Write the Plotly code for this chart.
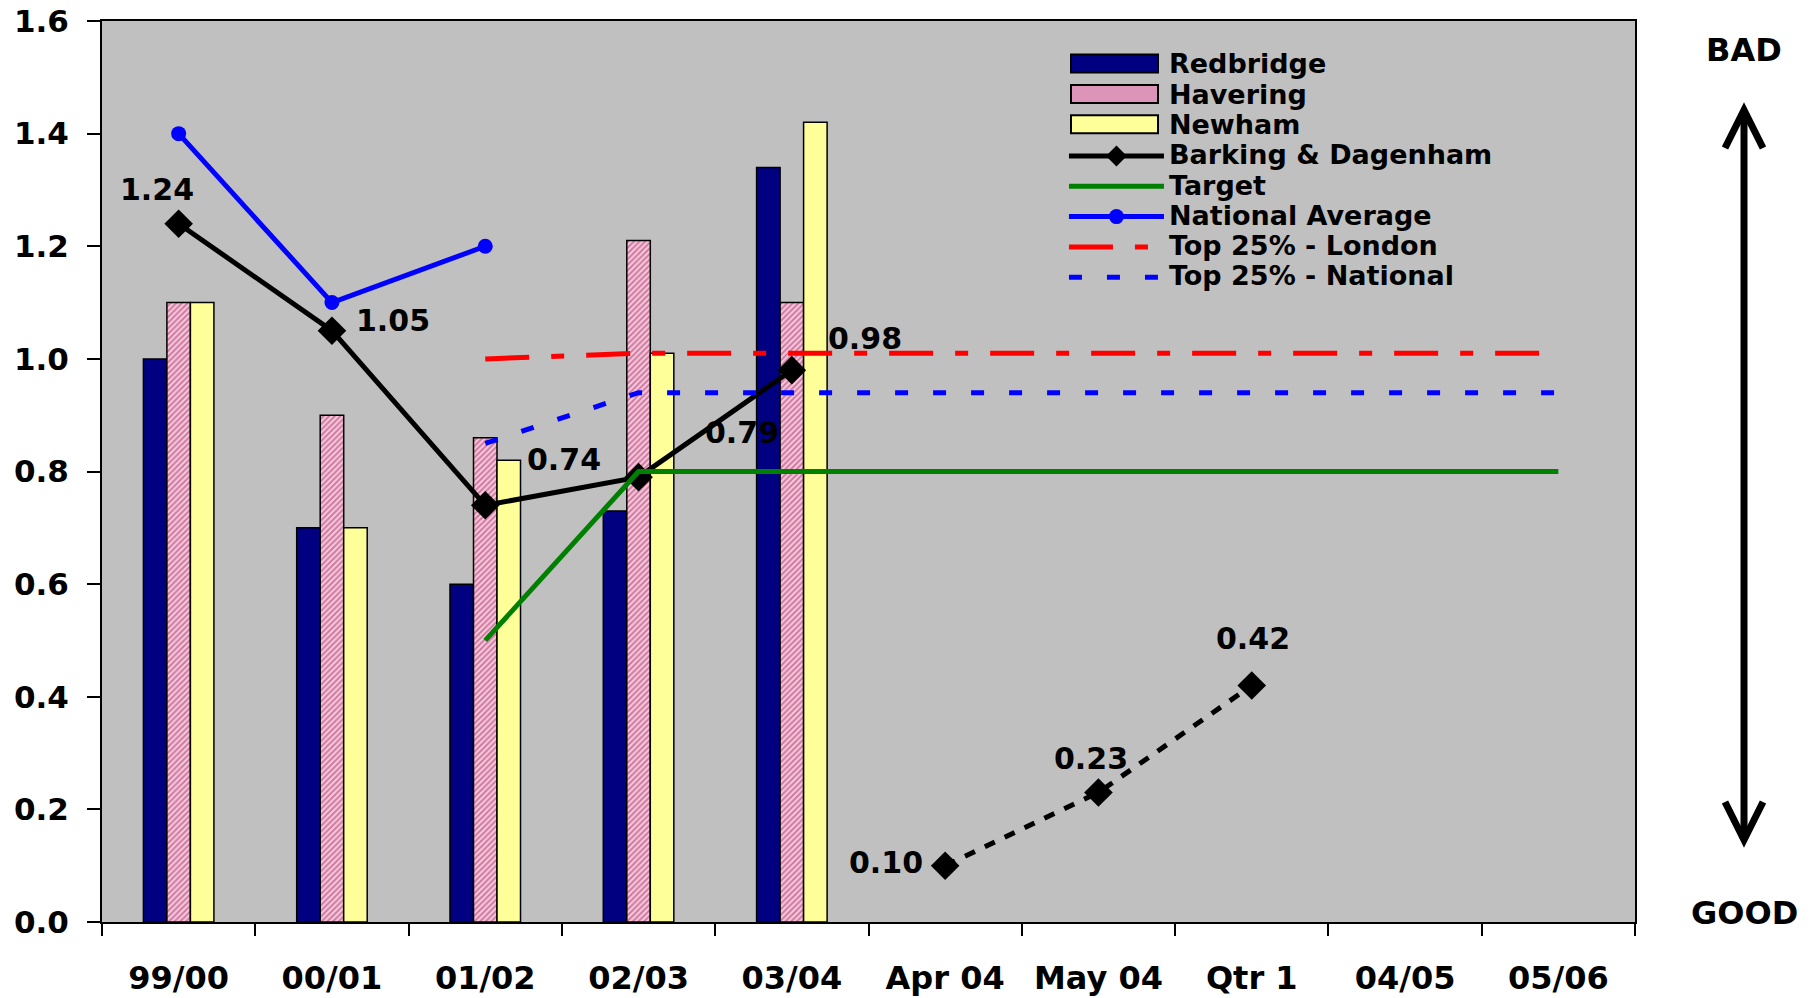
import plotly.graph_objects as go

categories = ["99/00", "00/01", "01/02", "02/03", "03/04", "Apr 04", "May 04", "Qtr 1", "04/05", "05/06"]
redbridge = [1.00, 0.70, 0.60, 0.73, 1.34, None, None, None, None, None]
havering = [1.10, 0.90, 0.86, 1.21, 1.10, None, None, None, None, None]
newham = [1.10, 0.70, 0.82, 1.01, 1.42, None, None, None, None, None]
barking_actual = [1.24, 1.05, 0.74, 0.79, 0.98, None, None, None, None, None]
barking_monthly = [None, None, None, None, None, 0.10, 0.23, 0.42, None, None]
target = [None, None, 0.50, 0.80, 0.80, 0.80, 0.80, 0.80, 0.80, 0.80]
national_avg = [1.40, 1.10, 1.20, None, None, None, None, None, None, None]
top25_london = [None, None, 1.00, 1.01, 1.01, 1.01, 1.01, 1.01, 1.01, 1.01]
top25_national = [None, None, 0.85, 0.94, 0.94, 0.94, 0.94, 0.94, 0.94, 0.94]
y_ticks = [0.0, 0.2, 0.4, 0.6, 0.8, 1.0, 1.2, 1.4, 1.6]

FONT = "DejaVu Sans"
LEG = 27
W, H = 1812, 998
ML, MR, MT, MB = 102, 177, 21, 76
PW, PH = W - ML - MR, H - MT - MB

NAVY = "#000080"
YELLOW = "#FFFF99"
PINK_BG = "#F6CBDF"
PINK_FG = "#A8285E"


def lname(s):
    return f"<span style='font-size:{LEG}px'>{s}</span>"


fig = go.Figure()
bar_specs = [
    ("Redbridge", redbridge, dict(color=NAVY, line=dict(color="black", width=1.5))),
    ("Havering", havering, dict(color=PINK_BG, line=dict(color="black", width=1.5),
                                pattern=dict(shape="/", fgcolor=PINK_FG, bgcolor=PINK_BG,
                                             size=4, solidity=0.5))),
    ("Newham", newham, dict(color=YELLOW, line=dict(color="black", width=1.5))),
]
for name, vals, mk in bar_specs:
    fig.add_trace(go.Bar(x=categories, y=vals, name=name, marker=mk, showlegend=False))
# legend text rows for bar series (swatches drawn as rectangles below)
for name, vals, mk in bar_specs:
    fig.add_trace(go.Scatter(x=[None], y=[None], name=lname(name), mode="lines",
                             line=dict(color="rgba(0,0,0,0)", width=1), hoverinfo="skip"))

fig.add_trace(go.Scatter(x=categories, y=barking_actual, name=lname("Barking &amp; Dagenham"),
                         mode="lines+markers", line=dict(color="black", width=5),
                         marker=dict(symbol="diamond", size=22, color="black")))
fig.add_trace(go.Scatter(x=categories, y=barking_monthly, showlegend=False,
                         mode="lines+markers", line=dict(color="black", width=5, dash="11px,11px"),
                         marker=dict(symbol="diamond", size=22, color="black")))
fig.add_trace(go.Scatter(x=categories, y=target, name=lname("Target"), mode="lines",
                         line=dict(color="#008000", width=5)))
fig.add_trace(go.Scatter(x=categories, y=national_avg, name=lname("National Average"),
                         mode="lines+markers", line=dict(color="#0000FF", width=5),
                         marker=dict(symbol="circle", size=15, color="#0000FF")))
fig.add_trace(go.Scatter(x=categories, y=top25_london, name=lname("Top 25% - London"), mode="lines",
                         line=dict(color="#FF0000", width=5, dash="44px,22px,13px,22px")))
fig.add_trace(go.Scatter(x=categories, y=top25_national, name=lname("Top 25% - National"), mode="lines",
                         line=dict(color="#0000FF", width=5, dash="13px,25px")))

# data labels for Barking & Dagenham
label_shifts = {0: (-22, 34), 1: (61, 10), 2: (79, 46), 3: (103, 45), 4: (73, 32),
                5: (-59, 3), 6: (-7, 34), 7: (1, 47)}
annotations = []
for i, cat in enumerate(categories):
    v = barking_actual[i] if barking_actual[i] is not None else barking_monthly[i]
    if v is None:
        continue
    dx, dy = label_shifts[i]
    annotations.append(dict(x=cat, y=v, xref="x", yref="y", text=f"{v:.2f}", showarrow=False,
                            xshift=dx, yshift=dy, xanchor="center", yanchor="middle",
                            font=dict(family=FONT, size=30, color="black", weight="bold")))


def px_x(p):  # screen px -> paper x
    return (p - ML) / PW


def px_y(p):  # screen px -> paper y
    return (H - MB - p) / PH


ax = px_x(1744)
annotations.append(dict(x=ax, y=px_y(50), xref="paper", yref="paper", text="BAD", showarrow=False,
                        xanchor="center", yanchor="middle",
                        font=dict(family=FONT, size=32, color="black", weight="bold")))
annotations.append(dict(x=ax, y=px_y(913), xref="paper", yref="paper", text="GOOD", showarrow=False,
                        xanchor="center", yanchor="middle",
                        font=dict(family=FONT, size=32, color="black", weight="bold")))

top, bot = px_y(110), px_y(840)
dx, dy = 19 / PW, 38 / PH
shapes = [
    dict(type="line", xref="paper", yref="paper", x0=ax, x1=ax, y0=bot + 0.004, y1=top - 0.004,
         line=dict(color="black", width=7)),
    dict(type="path", xref="paper", yref="paper",
         path=f"M {ax - dx},{top - dy} L {ax},{top} L {ax + dx},{top - dy}",
         line=dict(color="black", width=7)),
    dict(type="path", xref="paper", yref="paper",
         path=f"M {ax - dx},{bot + dy} L {ax},{bot} L {ax + dx},{bot + dy}",
         line=dict(color="black", width=7)),
]

# legend swatches for the bar series
LEG_Y = 0.9734
row0 = MT + (1 - LEG_Y) * PH + 18.6   # px of first legend row
row_step = 30.4
swatch_fill = [NAVY, "#DC94B8", YELLOW]
for i, col in enumerate(swatch_fill):
    cy = row0 + row_step * i
    shapes.append(dict(type="rect", xref="paper", yref="paper", layer="above",
                       x0=px_x(1071), x1=px_x(1158), y0=px_y(cy + 9), y1=px_y(cy - 9),
                       fillcolor=col, line=dict(color="black", width=2)))

fig.update_layout(
    width=W, height=H,
    margin=dict(l=ML, r=MR, t=MT, b=MB, autoexpand=False),
    paper_bgcolor="white", plot_bgcolor="#C0C0C0",
    font=dict(family=FONT, size=30, color="black", weight="bold"),
    barmode="group", bargap=0.54, bargroupgap=0,
    showlegend=True,
    legend=dict(x=0.6275, y=LEG_Y, xanchor="left", yanchor="top", bgcolor="rgba(0,0,0,0)",
                font=dict(family=FONT, size=21, color="black", weight="bold"),
                itemwidth=95, tracegroupgap=0, traceorder="normal"),
    annotations=annotations, shapes=shapes,
)
fig.update_xaxes(type="category", categoryorder="array", categoryarray=categories,
                 range=[-0.5, 9.5], showline=True, linecolor="black", linewidth=2, mirror=True,
                 ticks="outside", tickson="boundaries", ticklen=12, tickcolor="black", tickwidth=1.5,
                 ticklabelstandoff=27, tickfont=dict(family=FONT, size=32, weight="bold"),
                 ticklabeloverflow="allow",
                 showgrid=False, zeroline=False, automargin=False)
fig.update_yaxes(range=[0, 1.6], tickvals=y_ticks, ticktext=[f"{t:.1f}" for t in y_ticks],
                 showline=True, linecolor="black", linewidth=2, mirror=True,
                 ticks="outside", ticklen=13, tickcolor="black", tickwidth=1.5,
                 ticklabelstandoff=12, tickfont=dict(family=FONT, size=31, weight="bold"),
                 ticklabeloverflow="allow",
                 showgrid=False, zeroline=False, automargin=False)

fig.write_html("out.html", config={"displayModeBar": False},
               post_script="document.body.style.margin='0px';document.body.style.padding='0px';")
